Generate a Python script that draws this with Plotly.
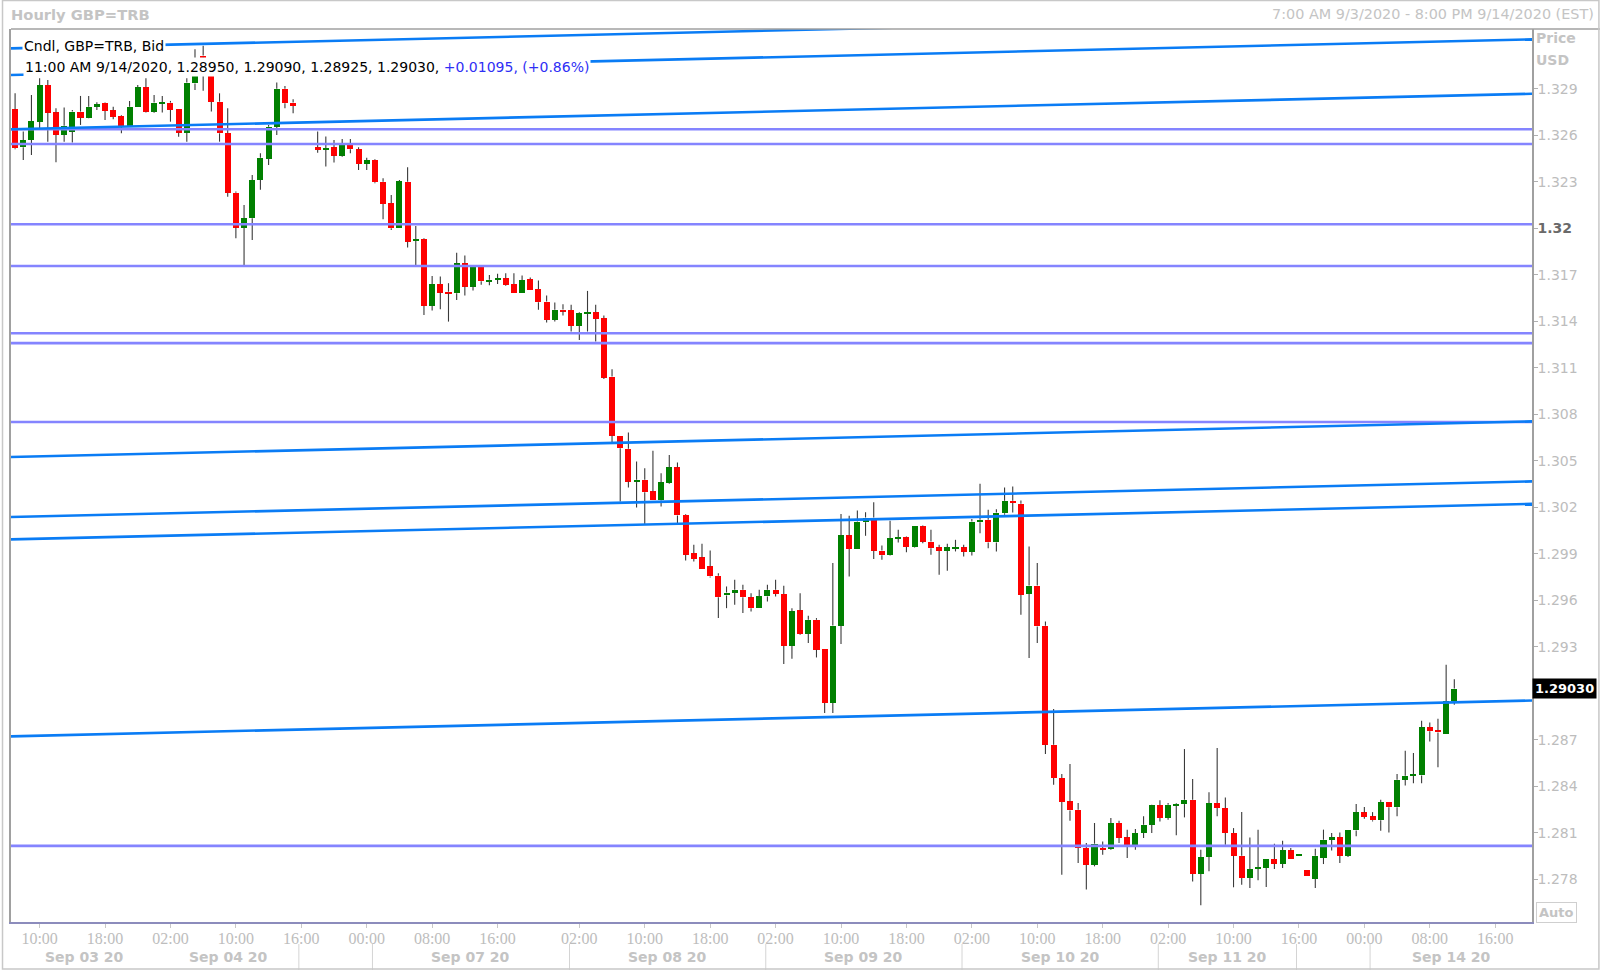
import plotly.graph_objects as go

W, H = 1600, 970
ML, MR, MT, MB = 9, 68, 29, 48
PW = W - ML - MR
PH = H - MT - MB

# ---------------- data (hourly slots, index 0 = 7:00 AM 9/3/2020 EST) ----------------
opens = [1.32768, 1.32523, 1.32570, 1.32688, 1.32923, 1.32748, 1.32604, 1.32624, 1.32753, 1.32714,
         1.32785, 1.32811, 1.32761, 1.32725, 1.32660, 1.32781, 1.32910, 1.32753, 1.32807, 1.32811,
         1.32768, 1.32617, 1.32935, 1.33115, 1.33060, 1.32817, 1.32613, 1.32230, 1.32005, 1.32065,
         1.32312, 1.32450, 1.32656, 1.32901, 1.32811, None, None, 1.32523, 1.32508, 1.32523,
         1.32469, 1.32538, 1.32510, 1.32415, 1.32441, 1.32301, 1.32161, 1.32000, 1.32301, 1.31919,
         1.31929, 1.31501, 1.31641, 1.31590, 1.31581, 1.31774, 1.31624, 1.31749, 1.31658, 1.31671,
         1.31678, 1.31641, 1.31585, 1.31671, 1.31609, 1.31527, 1.31409, 1.31474, 1.31473, 1.31372,
         1.31452, 1.31458, 1.31420, 1.31043, 1.30663, 1.30577, 1.30366, 1.30377, 1.30302, 1.30244,
         1.30356, 1.30457, 1.30151, 1.29904, 1.29876, 1.29818, 1.29758, 1.29631, 1.29650, 1.29668,
         1.29618, 1.29549, 1.29625, 1.29668, 1.29640, 1.29306, 1.29534, 1.29384, 1.29474, 1.29285,
         1.28937, 1.29437, 1.30018, 1.29930, 1.30104, 1.30134, 1.29921, 1.29893, 1.29999, 1.30007,
         1.29943, 1.30076, 1.29979, 1.29941, 1.29919, 1.29935, 1.29941, 1.29913, 1.30104, 1.30119,
         1.29973, 1.30162, 1.30242, 1.30222, 1.29640, 1.29695, 1.29435, 1.28668, 1.28453, 1.28302,
         1.28248, 1.28001, 1.27894, 1.28001, 1.27995, 1.28163, 1.28070, 1.28023, 1.28098, 1.28152,
         1.28276, 1.28195, 1.28274, 1.28285, 1.28313, 1.27833, 1.27943, 1.28292, 1.28259, 1.28098,
         1.27952, 1.27808, 1.27866, 1.27872, 1.27930, 1.27900, 1.27986, 1.27954, 1.27857, 1.27801,
         1.27937, 1.28055, 1.28070, 1.27952, 1.28115, 1.28231, 1.28205, 1.28180, 1.28296, 1.28264,
         1.28442, 1.28470, 1.28470, 1.28780, 1.28760, 1.28739, 1.28950]
highs = [1.32871, 1.32624, 1.32860, 1.32968, 1.32957, 1.32774, 1.32779, 1.32764, 1.32854, 1.32854,
         1.32813, 1.32815, 1.32785, 1.32729, 1.32822, 1.32925, 1.32968, 1.32860, 1.32854, 1.32822,
         1.32768, 1.32968, 1.33156, 1.33178, 1.33090, 1.32871, 1.32774, 1.32237, 1.32151, 1.32344,
         1.32484, 1.32667, 1.32940, 1.32918, 1.32832, None, None, 1.32624, 1.32592, 1.32570,
         1.32576, 1.32576, 1.32523, 1.32456, 1.32445, 1.32323, 1.32215, 1.32312, 1.32394, 1.32015,
         1.31936, 1.31693, 1.31689, 1.31646, 1.31843, 1.31824, 1.31760, 1.31753, 1.31699, 1.31706,
         1.31710, 1.31710, 1.31695, 1.31682, 1.31663, 1.31566, 1.31521, 1.31510, 1.31506, 1.31458,
         1.31596, 1.31506, 1.31437, 1.31091, 1.30663, 1.30682, 1.30495, 1.30452, 1.30564, 1.30420,
         1.30538, 1.30489, 1.30156, 1.29958, 1.29964, 1.29921, 1.29775, 1.29689, 1.29732, 1.29700,
         1.29646, 1.29668, 1.29700, 1.29732, 1.29693, 1.29549, 1.29646, 1.29500, 1.29485, 1.29285,
         1.29840, 1.30156, 1.30145, 1.30179, 1.30168, 1.30233, 1.29953, 1.30113, 1.30055, 1.30012,
         1.30076, 1.30082, 1.30055, 1.29958, 1.29964, 1.29990, 1.29958, 1.30125, 1.30351, 1.30184,
         1.30188, 1.30328, 1.30334, 1.30244, 1.29947, 1.29840, 1.29463, 1.28898, 1.28479, 1.28543,
         1.28292, 1.28034, 1.28163, 1.28044, 1.28195, 1.28178, 1.28120, 1.28124, 1.28206, 1.28281,
         1.28309, 1.28292, 1.28292, 1.28640, 1.28446, 1.27990, 1.28362, 1.28646, 1.28328, 1.28130,
         1.28234, 1.28070, 1.28120, 1.27930, 1.28029, 1.28049, 1.28001, 1.27965, 1.27857, 1.27997,
         1.28120, 1.28098, 1.28102, 1.28120, 1.28285, 1.28266, 1.28233, 1.28313, 1.28296, 1.28479,
         1.28629, 1.28614, 1.28823, 1.28812, 1.28835, 1.29184, 1.29090]
lows = [1.32510, 1.32441, 1.32473, 1.32645, 1.32559, 1.32426, 1.32559, 1.32553, 1.32667, 1.32710,
        1.32764, 1.32699, 1.32703, 1.32613, 1.32656, 1.32781, 1.32748, 1.32746, 1.32748, 1.32688,
        1.32591, 1.32559, 1.32892, 1.32888, 1.32753, 1.32559, 1.32204, 1.31936, 1.31764, 1.31925,
        1.32248, 1.32409, 1.32602, 1.32774, 1.32742, None, None, 1.32488, 1.32398, 1.32424,
        1.32462, 1.32484, 1.32376, 1.32376, 1.32290, 1.32058, 1.31989, 1.32000, 1.31876, 1.31753,
        1.31441, 1.31469, 1.31478, 1.31398, 1.31538, 1.31566, 1.31598, 1.31635, 1.31633, 1.31641,
        1.31630, 1.31585, 1.31585, 1.31602, 1.31474, 1.31392, 1.31398, 1.31437, 1.31334, 1.31280,
        1.31334, 1.31269, 1.31028, 1.30620, 1.30237, 1.30328, 1.30199, 1.30091, 1.30244, 1.30205,
        1.30351, 1.30098, 1.29857, 1.29850, 1.29801, 1.29747, 1.29485, 1.29549, 1.29571, 1.29517,
        1.29528, 1.29549, 1.29592, 1.29625, 1.29188, 1.29222, 1.29377, 1.29324, 1.29231, 1.28872,
        1.28872, 1.29317, 1.29754, 1.29930, 1.30016, 1.29867, 1.29861, 1.29889, 1.29973, 1.29910,
        1.29941, 1.29968, 1.29893, 1.29764, 1.29790, 1.29915, 1.29882, 1.29889, 1.30033, 1.29936,
        1.29915, 1.30151, 1.30166, 1.29506, 1.29227, 1.29324, 1.28608, 1.28410, 1.27829, 1.28178,
        1.27905, 1.27733, 1.27883, 1.27958, 1.27990, 1.28034, 1.27937, 1.27990, 1.28066, 1.28098,
        1.28173, 1.28184, 1.28083, 1.28199, 1.27786, 1.27632, 1.27851, 1.28206, 1.28023, 1.27748,
        1.27765, 1.27743, 1.27793, 1.27750, 1.27866, 1.27872, 1.27930, 1.27954, 1.27819, 1.27743,
        1.27898, 1.27986, 1.27904, 1.27943, 1.28077, 1.28190, 1.28173, 1.28113, 1.28102, 1.28206,
        1.28405, 1.28420, 1.28420, 1.28689, 1.28522, 1.28739, 1.28925]
closes = [1.32516, 1.32570, 1.32693, 1.32923, 1.32746, 1.32604, 1.32662, 1.32753, 1.32714, 1.32785,
          1.32800, 1.32757, 1.32720, 1.32660, 1.32785, 1.32910, 1.32753, 1.32811, 1.32811, 1.32764,
          1.32617, 1.32940, 1.33080, 1.33105, 1.32817, 1.32613, 1.32230, 1.32005, 1.32065, 1.32312,
          1.32456, 1.32656, 1.32901, 1.32807, 1.32789, None, None, 1.32505, 1.32514, 1.32469,
          1.32538, 1.32510, 1.32415, 1.32441, 1.32297, 1.32157, 1.32000, 1.32306, 1.31914, 1.31929,
          1.31501, 1.31641, 1.31585, 1.31581, 1.31774, 1.31624, 1.31753, 1.31658, 1.31667, 1.31675,
          1.31635, 1.31585, 1.31667, 1.31602, 1.31523, 1.31409, 1.31474, 1.31467, 1.31372, 1.31452,
          1.31458, 1.31415, 1.31037, 1.30663, 1.30581, 1.30366, 1.30377, 1.30297, 1.30244, 1.30360,
          1.30457, 1.30147, 1.29893, 1.29867, 1.29801, 1.29754, 1.29620, 1.29650, 1.29668, 1.29620,
          1.29549, 1.29625, 1.29668, 1.29640, 1.29306, 1.29528, 1.29384, 1.29474, 1.29281, 1.28937,
          1.29437, 1.30018, 1.29930, 1.30108, 1.30134, 1.29919, 1.29891, 1.30001, 1.30007, 1.29943,
          1.30076, 1.29979, 1.29936, 1.29919, 1.29941, 1.29941, 1.29913, 1.30108, 1.30119, 1.29973,
          1.30166, 1.30242, 1.30227, 1.29635, 1.29695, 1.29431, 1.28668, 1.28453, 1.28298, 1.28244,
          1.28001, 1.27894, 1.28029, 1.27990, 1.28163, 1.28066, 1.28023, 1.28098, 1.28152, 1.28276,
          1.28195, 1.28281, 1.28287, 1.28313, 1.27833, 1.27943, 1.28292, 1.28259, 1.28098, 1.27952,
          1.27808, 1.27866, 1.27877, 1.27930, 1.27900, 1.27986, 1.27930, 1.27965, 1.27819, 1.27952,
          1.28055, 1.28070, 1.27952, 1.28120, 1.28231, 1.28201, 1.28180, 1.28298, 1.28264, 1.28442,
          1.28468, 1.28474, 1.28780, 1.28754, 1.28747, 1.28950, 1.29030]

n_slots = 186  # 7:00 AM 9/3 .. 8:00 PM 9/14, trading hours only

# horizontal support/resistance levels
level_prices = [1.32639, 1.32544, 1.32026, 1.31757, 1.31323, 1.31259, 1.30750, 1.28015]
# sloped trend lines: price at left edge and right edge of chart
trend_left = [1.33161, 1.32989, 1.32639, 1.30524, 1.30137, 1.29993, 1.28722]
trend_right = [1.33391, 1.33219, 1.32868, 1.30754, 1.30367, 1.30222, 1.28953]

# x-axis time ticks
tick_slots = [3, 11, 19, 27, 35, 43, 51, 59, 69, 77, 85, 93, 101, 109, 117, 125, 133, 141, 149, 157, 165, 173, 181]
tick_text = ["10:00", "18:00", "02:00", "10:00", "16:00", "00:00", "08:00", "16:00", "02:00", "10:00",
             "18:00", "02:00", "10:00", "18:00", "02:00", "10:00", "18:00", "02:00", "10:00", "16:00",
             "00:00", "08:00", "16:00"]
# date bands (slot boundaries) and their labels
day_bounds = [-0.5, 17.5, 34.7, 43.7, 67.8, 91.8, 115.8, 139.8, 156.7, 165.7, 185.5]
day_labels = ["Sep 03 20", "Sep 04 20", "", "Sep 07 20", "Sep 08 20", "Sep 09 20", "Sep 10 20",
              "Sep 11 20", "", "Sep 14 20"]
separator_bounds = [34.7, 43.7, 67.8, 91.8, 115.8, 139.8, 156.7, 165.7]

price_ticks = [1.278, 1.281, 1.284, 1.287, 1.290, 1.293, 1.296, 1.299, 1.302, 1.305, 1.308,
               1.311, 1.314, 1.317, 1.320, 1.323, 1.326, 1.329]
y_range = [1.27524, 1.33286]
last_price = 1.29030

# ---------------- figure ----------------
GREEN = "#008000"
RED = "#ff0000"
BLUE = "#0a7cf5"
PURPLE = "#8484ff"
GRAY_TXT = "#bdbdbd"

fig = go.Figure()

bx, bbase, bh, bcol = [], [], [], []
wx, wy = [], []
min_body = 0.0001
for i, (o, h, l, c) in enumerate(zip(opens, highs, lows, closes)):
    if o is None:
        continue
    top, bot = max(o, c), min(o, c)
    if top - bot < min_body:
        mid = (top + bot) / 2
        top, bot = mid + min_body / 2, mid - min_body / 2
    bx.append(i)
    bbase.append(bot)
    bh.append(top - bot)
    bcol.append(GREEN if c >= o else RED)
    wx += [i, i, None, i, i, None]
    wy += [h, top, None, bot, l, None]

fig.add_trace(go.Scatter(x=wx, y=wy, mode="lines", line=dict(color="#3a3a3a", width=1.1),
                         hoverinfo="skip", showlegend=False))
fig.add_trace(go.Bar(x=bx, y=bh, base=bbase, width=0.74,
                     marker=dict(color=bcol, line=dict(width=0)), showlegend=False))

x_left, x_right = -0.5, n_slots - 0.5
for p in level_prices:
    fig.add_trace(go.Scatter(x=[x_left, x_right], y=[p, p], mode="lines",
                             line=dict(color=PURPLE, width=2.6), hoverinfo="skip", showlegend=False))
for pl, pr in zip(trend_left, trend_right):
    fig.add_trace(go.Scatter(x=[x_left, x_right], y=[pl, pr], mode="lines",
                             line=dict(color=BLUE, width=2.6), hoverinfo="skip", showlegend=False))

ytext = []
for v in price_ticks:
    if abs(v - 1.32) < 1e-9:
        ytext.append("<b><span style='color:#6a6a6a'>1.32</span></b>")
    elif abs(v - last_price) < 0.0015:
        ytext.append("")  # covered by the last-price box
    else:
        ytext.append(f"{v:.3f}")


def px_x(px):
    return (px - ML) / PW


def px_y(py):
    return 1 - (py - MT) / PH


annotations = []
# header
annotations.append(dict(text="<b>Hourly GBP=TRB</b>", xref="paper", yref="paper", x=px_x(7), y=px_y(14),
                        xanchor="left", yanchor="middle", showarrow=False,
                        font=dict(family="DejaVu Sans", size=14.7, color="#c4c4c4")))
annotations.append(dict(text="7:00 AM 9/3/2020 - 8:00 PM 9/14/2020 (EST)", xref="paper", yref="paper",
                        x=px_x(1596), y=px_y(14), xanchor="right", yanchor="middle", showarrow=False,
                        font=dict(family="DejaVu Sans", size=14.4, color="#c4c4c4")))
# legend lines
annotations.append(dict(text="Cndl, GBP=TRB, Bid", xref="paper", yref="paper", x=px_x(20), y=px_y(46),
                        xanchor="left", yanchor="middle", showarrow=False, bgcolor="white", borderpad=1,
                        font=dict(family="DejaVu Sans", size=14, color="black")))
o_, h_, l_, c_ = opens[-1], highs[-1], lows[-1], closes[-1]
annotations.append(dict(
    text=f"11:00 AM 9/14/2020, {o_:.5f}, {h_:.5f}, {l_:.5f}, {c_:.5f}, "
         f"<span style='color:#2f2ff5'>+0.01095, (+0.86%)</span>",
    xref="paper", yref="paper", x=px_x(21), y=px_y(67), xanchor="left", yanchor="middle",
    showarrow=False, bgcolor="white", borderpad=1,
    font=dict(family="DejaVu Sans", size=14, color="black")))
# price axis captions
annotations.append(dict(text="<b>Price</b>", xref="paper", yref="paper", x=px_x(1534), y=px_y(38),
                        xanchor="left", yanchor="middle", showarrow=False,
                        font=dict(family="DejaVu Sans", size=14, color="#c4c4c4")))
annotations.append(dict(text="<b>USD</b>", xref="paper", yref="paper", x=px_x(1534), y=px_y(60),
                        xanchor="left", yanchor="middle", showarrow=False,
                        font=dict(family="DejaVu Sans", size=14, color="#c4c4c4")))
# last price box
annotations.append(dict(text=f"<b>{last_price:.5f}</b>", xref="paper", yref="y", x=1, y=last_price,
                        xanchor="left", yanchor="middle", showarrow=False, bgcolor="black", borderpad=2,
                        font=dict(family="DejaVu Sans", size=13, color="white")))
# Auto button
annotations.append(dict(text="<b>Auto</b>", xref="paper", yref="paper", x=px_x(1557), y=px_y(912),
                        xanchor="center", yanchor="middle", showarrow=False, bordercolor="#cfcfcf",
                        borderwidth=1, borderpad=2,
                        font=dict(family="DejaVu Sans", size=13, color="#c4c4c4")))
# date labels
for k, lab in enumerate(day_labels):
    if not lab:
        continue
    xc = (day_bounds[k] + day_bounds[k + 1]) / 2
    annotations.append(dict(text=f"<b>{lab}</b>", xref="x", yref="paper", x=xc, y=px_y(957),
                            xanchor="center", yanchor="middle", showarrow=False,
                            font=dict(family="DejaVu Sans", size=14, color="#c4c4c4")))

shapes = []
for b in separator_bounds:
    shapes.append(dict(type="line", xref="x", yref="paper", x0=b, x1=b, y0=px_y(944), y1=px_y(970),
                       line=dict(color="#d4d4d4", width=1)))
# top frame line continuing over price axis, and outer frame
shapes.append(dict(type="line", xref="paper", yref="paper", x0=0, x1=px_x(1600), y0=1, y1=1,
                   line=dict(color="#a0a0a0", width=1.5)))
shapes.append(dict(type="rect", xref="paper", yref="paper", x0=px_x(0.5), x1=px_x(1599), y0=px_y(969),
                   y1=px_y(0.5), line=dict(color="#c8c8c8", width=1.5)))

fig.update_layout(
    width=W, height=H,
    margin=dict(l=ML, r=MR, t=MT, b=MB),
    paper_bgcolor="white", plot_bgcolor="white",
    barmode="overlay", bargap=0, showlegend=False,
    annotations=annotations, shapes=shapes,
    xaxis=dict(range=[x_left, x_right], tickmode="array", tickvals=tick_slots, ticktext=tick_text,
               ticks="outside", ticklen=4, tickcolor="#c8c8c8", showgrid=False, zeroline=False,
               showline=True, linecolor="#8c8cbc", linewidth=1.5, mirror=False, ticklabelstandoff=-3,
               tickfont=dict(family="Liberation Serif", size=16, color=GRAY_TXT)),
    yaxis=dict(range=y_range, side="right", tickmode="array", tickvals=price_ticks, ticktext=ytext,
               ticks="outside", ticklen=4, tickcolor="#b0b0b0", showgrid=False, zeroline=False,
               showline=True, linecolor="#a0a0a0", linewidth=1.5, mirror=True, ticklabelstandoff=-3,
               tickfont=dict(family="DejaVu Sans", size=14, color=GRAY_TXT)),
)

fig.write_html("out.html", config={"displayModeBar": False},
               post_script="document.body.style.margin='0px';document.body.style.overflow='hidden';")
